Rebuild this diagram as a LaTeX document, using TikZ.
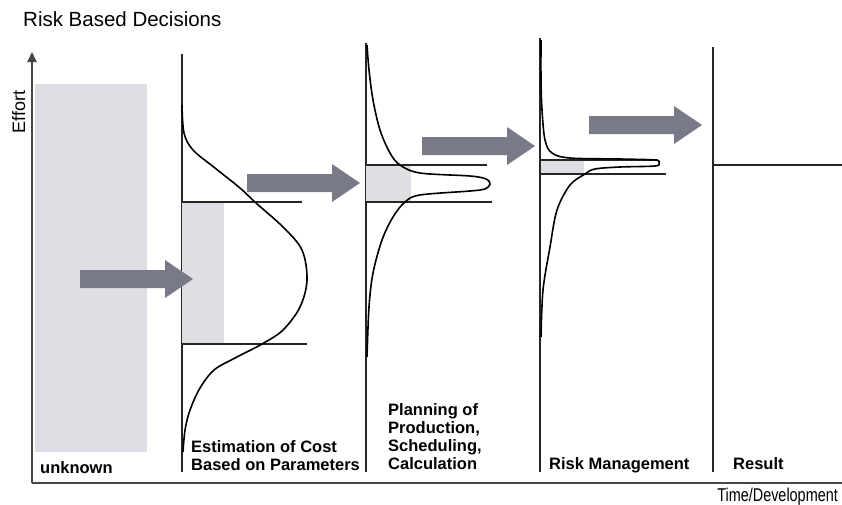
\documentclass[tikz,border=0pt]{standalone}
\usepackage{fontspec}
\setmainfont{Liberation Sans}
\usetikzlibrary{arrows.meta}

\definecolor{boxgray}{RGB}{222,222,228}
\definecolor{arrowgray}{RGB}{120,122,135}
\definecolor{axisgray}{RGB}{70,70,70}

\tikzset{
  stage/.style={line width=1.2pt,black!85},
  bound/.style={line width=1.1pt,black!85},
  density/.style={line width=1.6pt,black,smooth,tension=0.55},
  stagelabel/.style={font=\bfseries\fontsize{16.5}{17.8}\selectfont,anchor=base west,inner sep=0pt,align=left},
}

\begin{document}
\begin{tikzpicture}[x=1pt,y=-1pt]
                \useasboundingbox (0,0) rectangle (842,504);

                % Title and axes
                \node[font=\fontsize{20.5}{22}\selectfont,anchor=base west,inner sep=0pt] (title) at (23,26) {Risk Based Decisions};
                \coordinate (origin) at (32,483);
                \coordinate (ytop) at (32,52);
                \coordinate (xend) at (842,483);
                \fill[boxgray] (35,84) rectangle (147,452);
                \draw[axisgray,line width=2pt,-{Triangle[length=10pt,width=9pt]}] (origin) -- (ytop);
                \draw[axisgray,line width=2pt] (origin) -- (xend);
                \node[rotate=90,font=\fontsize{18}{20}\selectfont,anchor=base,inner sep=0pt] (effort) at (25,112) {Effort};
                \node[xscale=0.78,font=\fontsize{18.5}{20}\selectfont,anchor=base east,inner sep=0pt] (xlabel) at (838,501) {Time/Development};

                % Stage lines
                \foreach \name/\x/\top in {s1/182/54, s2/366/43, s3/540/38, s4/713/47} {
                    \coordinate (\name t) at (\x,\top);
                    \coordinate (\name b) at (\x,472);
                    \draw[stage] (\name t) -- (\name b);
                }

                % Shaded ranges
                \fill[boxgray] (182,202) rectangle (224,344);
                \fill[boxgray] (366,165) rectangle (411,202);
                \fill[boxgray] (541,160) rectangle (584,174);

                % Range bounds
                \draw[bound] (182,202) -- (302,202);
                \draw[bound] (182,344) -- (307,344);
                \draw[bound] (366,165) -- (487,165);
                \draw[bound] (366,202) -- (492,202);
                \draw[bound] (540,160) -- (658,160);
                \draw[bound] (540,174) -- (666,174);
                \draw[bound] (713,165) -- (842,165);

                % Distributions
                \draw[density] plot coordinates {(182,105) (184,133) (193,150) (215,168) (240,188) (256,203) (283,227) (302,250) (307,280) (300,307) (283,330) (262,344) (235,358) (214,370) (200,388) (190,410) (185,430) (183,452)};
                \draw[density] plot coordinates {(367,45) (369,70) (373,100) (380,130) (390,153) (400,165) (420,173) (470,176) (486,179) (490,184) (485,189) (470,191) (420,195) (405,202) (393,217) (382,240) (373,273) (369,307) (367,357)};
                \draw[density] plot coordinates {(541,40) (541,80) (542,110) (545,140) (552,153) (570,158) (620,159) (655,160) (659,163) (655,166) (620,167) (595,169) (585,174) (570,185) (557,210) (550,247) (543,290) (541,337)};

                % Block arrows
                \foreach \x/\y in {80/279, 247/183, 422/146, 589/125} {
                    \fill[arrowgray] (\x,\y-9) -- ++(85,0) -- ++(0,-10) -- ++(28,19) -- ++(-28,19) -- ++(0,-10) -- ++(-85,0) -- cycle;
                }

                % Stage labels (base = last line)
                \node[stagelabel] (unknown) at (40,473) {unknown};
                \node[stagelabel] (estimation) at (191,470) {Estimation of Cost\\Based on Parameters};
                \node[stagelabel] (planning) at (388,469) {Planning of\\Production,\\Scheduling,\\Calculation};
                \node[stagelabel] (riskmgmt) at (549,469) {Risk Management};
                \node[stagelabel] (result) at (733,469) {Result};
\end{tikzpicture}
\end{document}
